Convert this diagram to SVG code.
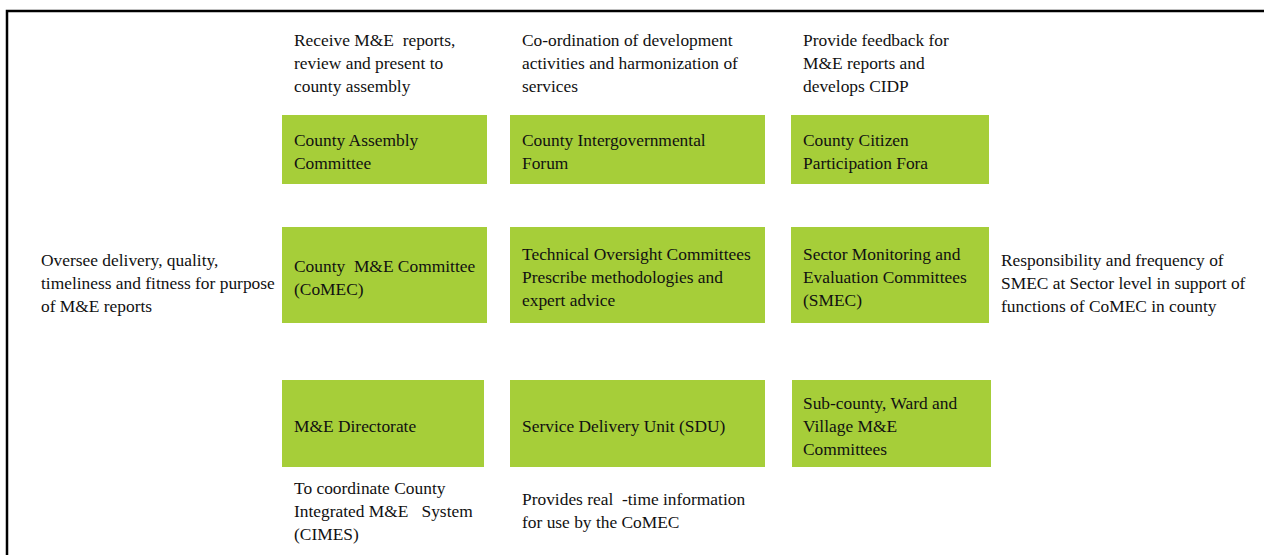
<svg xmlns="http://www.w3.org/2000/svg" width="1264" height="555" viewBox="0 0 1264 555">
<style>
.box{fill:#a6ce39;}
text{font-family:"Liberation Serif","Times New Roman",serif;font-size:17.4px;fill:#111;white-space:pre;}
.frame{stroke:#000;stroke-width:2.5;fill:none;}
</style>
<rect width="1264" height="555" fill="#fff"/>
<polyline class="frame" points="7,555 7,11 1264,11"/>
<g id="connectors"></g>
<g id="n-assembly"><rect class="box" x="282" y="115" width="205" height="69"/><text x="294" y="146">County Assembly</text><text x="294" y="169">Committee</text></g>
<g id="n-forum"><rect class="box" x="510" y="115" width="255" height="69"/><text x="522" y="146">County Intergovernmental</text><text x="522" y="169">Forum</text></g>
<g id="n-citizen"><rect class="box" x="791" y="115" width="198" height="69"/><text x="803" y="146">County Citizen</text><text x="803" y="169">Participation Fora</text></g>
<g id="n-comec"><rect class="box" x="282" y="227" width="205" height="96"/><text x="294" y="272">County  M&amp;E Committee</text><text x="294" y="295">(CoMEC)</text></g>
<g id="n-toc"><rect class="box" x="510" y="227" width="255" height="96"/><text x="522" y="260">Technical Oversight Committees</text><text x="522" y="283">Prescribe methodologies and</text><text x="522" y="306">expert advice</text></g>
<g id="n-smec"><rect class="box" x="791" y="227" width="198" height="96"/><text x="803" y="260">Sector Monitoring and</text><text x="803" y="283">Evaluation Committees</text><text x="803" y="306">(SMEC)</text></g>
<g id="n-directorate"><rect class="box" x="282" y="380" width="202" height="87"/><text x="294" y="432">M&amp;E Directorate</text></g>
<g id="n-sdu"><rect class="box" x="510" y="380" width="255" height="87"/><text x="522" y="432">Service Delivery Unit (SDU)</text></g>
<g id="n-subcounty"><rect class="box" x="792" y="380" width="199" height="87"/><text x="803" y="409">Sub-county, Ward and</text><text x="803" y="432">Village M&amp;E</text><text x="803" y="455">Committees</text></g>
<g id="labels">
<text x="294" y="46">Receive M&amp;E  reports,</text><text x="294" y="69">review and present to</text><text x="294" y="92">county assembly</text>
<text x="522" y="46">Co-ordination of development</text><text x="522" y="69">activities and harmonization of</text><text x="522" y="92">services</text>
<text x="803" y="46">Provide feedback for</text><text x="803" y="69">M&amp;E reports and</text><text x="803" y="92">develops CIDP</text>
<text x="41" y="266">Oversee delivery, quality,</text><text x="41" y="289">timeliness and fitness for purpose</text><text x="41" y="312">of M&amp;E reports</text>
<text x="1001" y="266">Responsibility and frequency of</text><text x="1001" y="289">SMEC at Sector level in support of</text><text x="1001" y="312">functions of CoMEC in county</text>
<text x="294" y="494">To coordinate County</text><text x="294" y="517">Integrated M&amp;E   System</text><text x="294" y="540">(CIMES)</text>
<text x="522" y="505">Provides real  -time information</text><text x="522" y="528">for use by the CoMEC</text>
</g>
</svg>
